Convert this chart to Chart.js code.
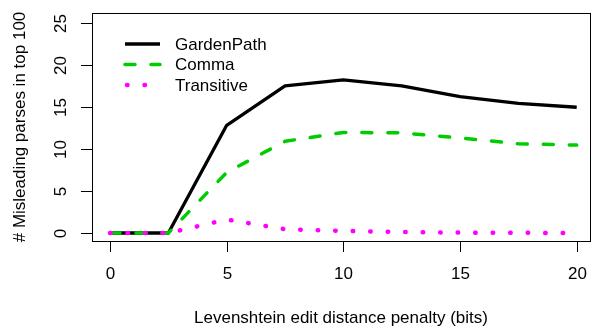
<!DOCTYPE html>
<html>
<head>
<meta charset="utf-8">
<script src="https://cdn.jsdelivr.net/npm/chart.js@4/dist/chart.umd.min.js"></script>
<style>
  html, body { margin: 0; padding: 0; background: #fff; }
  #wrap { width: 592px; height: 329px; position: relative; }
</style>
</head>
<body>
<div id="wrap"><canvas id="chart"></canvas></div>
<script>
// penalty values (bits)
const penalties = [0, 2.5, 5, 7.5, 10, 12.5, 15, 17.5, 20];
const gardenPath = [0, 0, 12.8, 17.5, 18.2, 17.5, 16.2, 15.4, 14.95];
const comma = [0, 0, 7.2, 10.9, 11.95, 11.9, 11.3, 10.6, 10.45];
const transitive = [0, 0, 1.6, 0.45, 0.25, 0.12, 0.05, 0.02, 0];

const xTicks = [0, 5, 10, 15, 20];
const yTicks = [0, 5, 10, 15, 20, 25];

const FONT = '17px "Liberation Sans", Arial, sans-serif';

const toPoints = (ys) => ys.map((y, i) => ({ x: penalties[i], y: y }));

// draws the R-style box, axes, labels and legend
const rAxes = {
  id: 'rAxes',
  afterDraw(chart) {
    const ctx = chart.ctx;
    const area = chart.chartArea;
    const xs = chart.scales.x;
    const ys = chart.scales.y;
    ctx.save();
    ctx.strokeStyle = '#000';
    ctx.lineWidth = 1;
    ctx.strokeRect(area.left + 0.5, area.top + 0.5, area.right - area.left, area.bottom - area.top);

    ctx.fillStyle = '#000';
    ctx.font = FONT;
    ctx.textAlign = 'center';
    ctx.textBaseline = 'middle';

    xTicks.forEach(t => {
      const px = Math.round(xs.getPixelForValue(t)) + 0.5;
      ctx.beginPath();
      ctx.moveTo(px, area.bottom);
      ctx.lineTo(px, area.bottom + 11);
      ctx.stroke();
      ctx.fillText(String(t), px, 274);
    });

    yTicks.forEach(t => {
      const py = Math.round(ys.getPixelForValue(t)) + 0.5;
      ctx.beginPath();
      ctx.moveTo(area.left, py);
      ctx.lineTo(area.left - 11, py);
      ctx.stroke();
      ctx.save();
      ctx.translate(61, py);
      ctx.rotate(-Math.PI / 2);
      ctx.fillText(String(t), 0, 0);
      ctx.restore();
    });

    ctx.fillText('Levenshtein edit distance penalty (bits)', (area.left + area.right) / 2, 318);
    ctx.save();
    ctx.translate(20, (area.top + area.bottom) / 2);
    ctx.rotate(-Math.PI / 2);
    ctx.fillText('# Misleading parses in top 100', 0, 0);
    ctx.restore();

    // legend
    const rows = [44, 64.5, 85];
    chart.data.datasets.forEach((ds, i) => {
      const y = rows[i];
      ctx.save();
      ctx.strokeStyle = ds.borderColor;
      ctx.lineWidth = ds.borderWidth;
      ctx.lineCap = ds.borderCapStyle || 'butt';
      ctx.setLineDash(ds.borderDash || []);
      ctx.beginPath();
      ctx.moveTo(i === 2 ? 127 : 125, y);
      ctx.lineTo(160, y);
      ctx.stroke();
      ctx.restore();
      ctx.textAlign = 'left';
      ctx.fillText(ds.label, 175, y + 1);
    });
    ctx.restore();
  }
};

new Chart(document.getElementById('chart'), {
  type: 'line',
  data: {
    datasets: [
      {
        label: 'GardenPath',
        data: toPoints(gardenPath),
        borderColor: '#000000',
        borderWidth: 3.3,
        borderJoinStyle: 'round',
        borderCapStyle: 'butt',
        pointRadius: 0,
        order: 3
      },
      {
        label: 'Comma',
        data: toPoints(comma),
        borderColor: '#00cd00',
        borderWidth: 3.5,
        borderDash: [10, 16],
        borderJoinStyle: 'round',
        borderCapStyle: 'round',
        pointRadius: 0,
        order: 2
      },
      {
        label: 'Transitive',
        data: toPoints(transitive),
        borderColor: '#ff00ff',
        borderWidth: 4.5,
        borderDash: [0.5, 17],
        borderCapStyle: 'round',
        pointRadius: 0,
        order: 1
      }
    ]
  },
  options: {
    responsive: true,
    maintainAspectRatio: false,
    animation: false,
    layout: { padding: { left: 92, top: 13, right: 2, bottom: 88 } },
    scales: {
      x: { type: 'linear', min: -0.773, max: 20.57, display: false },
      y: { type: 'linear', min: -0.95, max: 26.15, display: false }
    },
    plugins: {
      legend: { display: false },
      tooltip: { enabled: false }
    }
  },
  plugins: [rAxes]
});
</script>
</body>
</html>
